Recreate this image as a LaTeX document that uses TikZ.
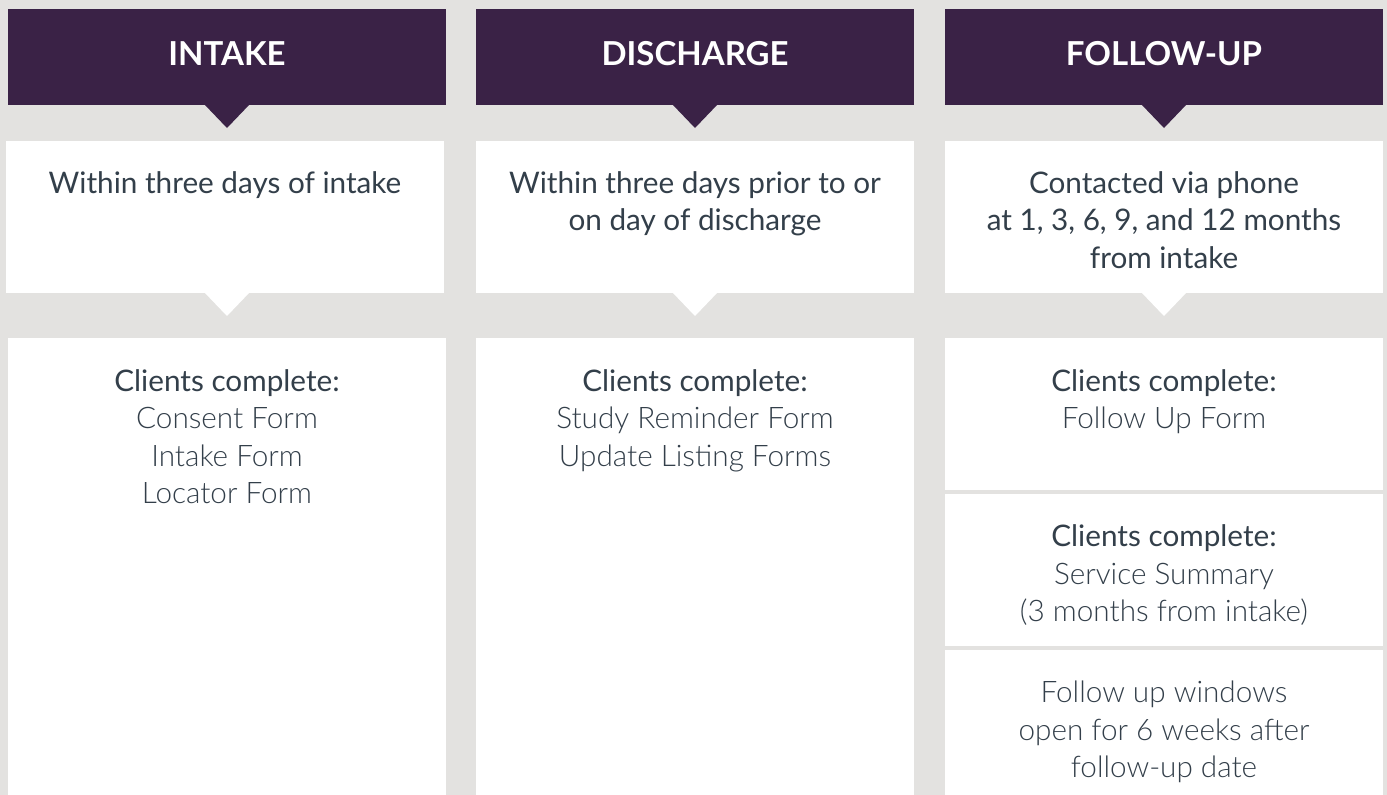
\documentclass[tikz,border=0pt]{standalone}
\usepackage{fontspec}
\setmainfont{Lato}
\newfontfamily\lightfont{Lato Light}
\definecolor{bggray}{HTML}{E3E2E0}
\definecolor{hdpurple}{HTML}{3A2246}
\definecolor{txtslate}{HTML}{333F4A}
\tikzset{
  hdtext/.style={inner sep=0, anchor=base, text=white, font=\fontsize{33}{38}\selectfont\bfseries},
  bodytext/.style={inner sep=0, anchor=base, text=txtslate, font=\fontsize{29.7}{36}\selectfont},
  lighttext/.style={inner sep=0, anchor=base, text=txtslate, font=\fontsize{29.7}{36}\selectfont\lightfont},
}
\begin{document}
\begin{tikzpicture}[x=1pt,y=-1pt]
\useasboundingbox (0,0) rectangle (1387,795);
\fill[bggray] (0,0) rectangle (1387,795);
% columns: left, right, center, white-box shift
\foreach \l/\r/\c/\s in {8/446/227/2, 476/914/695/0, 945/1383/1164/0}{
  \fill[hdpurple] (\l,9) rectangle (\r,105);
  \fill[hdpurple] (\c-23,104) -- (\c+23,104) -- (\c,128) -- cycle;
  \fill[white] (\l-\s,141) rectangle (\r-\s,293);
  \fill[white] (\c-23,292) -- (\c+23,292) -- (\c,316) -- cycle;
}
\fill[white] (8,338) rectangle (446,795);
\fill[white] (476,338) rectangle (914,795);
\fill[white] (945,338) rectangle (1383,490);
\fill[white] (945,494) rectangle (1383,646);
\fill[white] (945,650) rectangle (1383,795);
% headers
\node[hdtext] (h1) at (227,65) {INTAKE};
\node[hdtext] (h2) at (695,65) {DISCHARGE};
\node[hdtext] (h3) at (1164,65) {FOLLOW-UP};
% timing row
\node[bodytext] (t1) at (225,193) {Within three days of intake};
\node[bodytext] (t2a) at (695,193) {Within three days prior to or};
\node[bodytext] (t2b) at (695,230.5) {on day of discharge};
\node[bodytext] (t3a) at (1164,193) {Contacted via phone};
\node[bodytext] (t3b) at (1164,230.5) {at 1, 3, 6, 9, and 12 months};
\node[bodytext] (t3c) at (1164,268) {from intake};
% forms row col 1
\node[bodytext] (c1) at (227,391) {Clients complete:};
\node[lighttext] (c1a) at (227,428.5) {Consent Form};
\node[lighttext] (c1b) at (227,466) {Intake Form};
\node[lighttext] (c1c) at (227,503.5) {Locator Form};
% col 2
\node[bodytext] (c2) at (695,391) {Clients complete:};
\node[lighttext] (c2a) at (695,428.5) {Study Reminder Form};
\node[lighttext] (c2b) at (695,466) {Update Listing Forms};
% col 3
\node[bodytext] (c3) at (1164,391) {Clients complete:};
\node[lighttext] (c3a) at (1164,428.5) {Follow Up Form};
\node[bodytext] (d3) at (1164,546.5) {Clients complete:};
\node[lighttext] (d3a) at (1164,584) {Service Summary};
\node[lighttext] (d3b) at (1164,621.5) {(3 months from intake)};
\node[lighttext] (e3a) at (1164,702.5) {Follow up windows};
\node[lighttext] (e3b) at (1164,740) {open for 6 weeks after};
\node[lighttext] (e3c) at (1164,777.5) {follow-up date};
\end{tikzpicture}
\end{document}
